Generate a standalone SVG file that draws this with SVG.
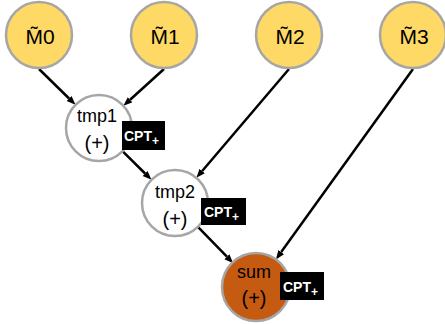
<svg xmlns="http://www.w3.org/2000/svg" width="445" height="324" viewBox="0 0 445 324">
<defs>
<marker id="arr" markerUnits="userSpaceOnUse" markerWidth="10" markerHeight="8" refX="0" refY="3.5" orient="auto"><path d="M0,0 L9,3.5 L0,7 z" fill="#000"/></marker>
<style>
.m{fill:#FFD966;stroke:#A6A6A6;stroke-width:2.5}
.t{fill:#FFFFFF;stroke:#A6A6A6;stroke-width:2.5}
.s{fill:#C55A11;stroke:#A6A6A6;stroke-width:2.5}
.lbl{font-family:"Liberation Sans",Arial,sans-serif;font-size:18px;fill:#000;text-anchor:middle}
.op{font-family:"Liberation Sans",Arial,sans-serif;font-size:20px;fill:#000;text-anchor:middle}
.ml{font-family:"Liberation Sans",Arial,sans-serif;font-size:21px;fill:#000;text-anchor:middle}
.box{fill:#000}
.cpt{font-family:"Liberation Sans",Arial,sans-serif;font-size:14px;font-weight:bold;fill:#fff}
.e{stroke:#000;stroke-width:2.5;fill:none;marker-end:url(#arr)}
</style>
</defs>
<g id="connectors">
<line class="e" x1="39" y1="69" x2="69.1" y2="98.5"/>
<line class="e" x1="164" y1="69" x2="130.1" y2="99.8"/>
<line class="e" x1="122.5" y1="151.2" x2="145.1" y2="173.5"/>
<line class="e" x1="289" y1="69" x2="202.2" y2="171"/>
<line class="e" x1="197.9" y1="226.8" x2="226.9" y2="256.7"/>
<line class="e" x1="413" y1="69" x2="281.2" y2="252.1"/>
</g>
<g id="M0"><circle class="m" cx="39" cy="35" r="33"/><text class="ml" x="40" y="44">M̃0</text></g>
<g id="M1"><circle class="m" cx="164" cy="35" r="33"/><text class="ml" x="165" y="44">M̃1</text></g>
<g id="M2"><circle class="m" cx="289" cy="35" r="33"/><text class="ml" x="290" y="44">M̃2</text></g>
<g id="M3"><circle class="m" cx="413" cy="35" r="33"/><text class="ml" x="414" y="44">M̃3</text></g>
<g id="tmp1"><circle class="t" cx="99" cy="128" r="33"/><text class="lbl" x="97" y="122">tmp1</text><text class="op" x="97" y="150">(+)</text>
<rect class="box" x="122" y="121" width="43" height="29"/><text class="cpt" x="124" y="141">CPT<tspan font-size="12" dy="4">+</tspan></text></g>
<g id="tmp2"><circle class="t" cx="175" cy="203" r="33"/><text class="lbl" x="175" y="198">tmp2</text><text class="op" x="175" y="226">(+)</text>
<rect class="box" x="201" y="198" width="45" height="27"/><text class="cpt" x="204" y="217">CPT<tspan font-size="12" dy="4">+</tspan></text></g>
<g id="sum"><circle class="s" cx="256" cy="287" r="34"/><text class="lbl" x="254" y="278">sum</text><text class="op" x="254" y="305">(+)</text>
<rect class="box" x="280" y="272" width="44" height="28"/><text class="cpt" x="283" y="292">CPT<tspan font-size="12" dy="4">+</tspan></text></g>
</svg>
